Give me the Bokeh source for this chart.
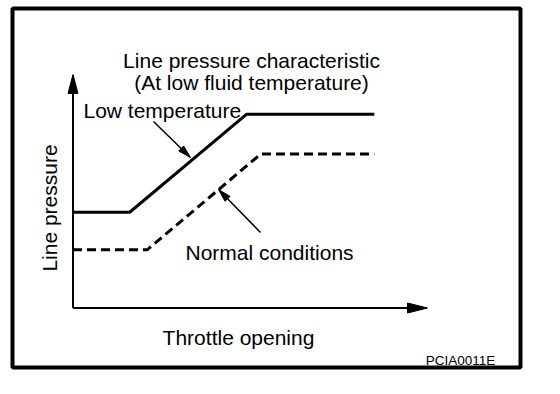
import math
from bokeh.plotting import figure
from bokeh.models import Range1d
from bokeh.embed import file_html
from bokeh.resources import INLINE
from bokeh.core.properties import value

# ---- data (arbitrary units: throttle opening %, line pressure %) ----
throttle_low = [0, 16, 49, 85]
pressure_low = [41, 41, 83, 83]
throttle_normal = [0, 21, 53, 85]
pressure_normal = [25, 25, 66, 66]
axis_max = 100

title_lines = ["Line pressure characteristic", "(At low fluid temperature)"]
label_low = "Low temperature"
label_normal = "Normal conditions"
x_label = "Throttle opening"
y_label = "Line pressure"
code_label = "PCIA0011E"

# ---- geometry (pixels on the canvas) ----
FRAME_L, FRAME_T, FW, FH = 12, 8, 508, 359
OX, OY = 72.5, 307.5          # axis origin
X_TIP, Y_TIP = 427.0, 74.0    # arrow tips = axis_max
SX = (X_TIP - OX) / axis_max
SY = (OY - Y_TIP) / axis_max


def dx(px):
    return (px - OX) / SX


def dy(py):
    return (OY - py) / SY


p = figure(width=FRAME_L + FW + 8, height=FRAME_T + FH + 7, output_backend="svg",
           toolbar_location=None,
           x_range=Range1d(dx(FRAME_L), dx(FRAME_L + FW)),
           y_range=Range1d(dy(FRAME_T + FH), dy(FRAME_T)),
           min_border_left=FRAME_L, min_border_right=8, min_border_top=FRAME_T,
           min_border_bottom=7)
p.axis.visible = False
p.grid.visible = False
p.outline_line_color = "black"
p.outline_line_width = 4
p.outline_line_alpha = 1
p.background_fill_color = "white"
p.border_fill_color = "white"


def head(tip_px, tail_px, length, width):
    tx, ty = tip_px
    ux, uy = tail_px[0] - tx, tail_px[1] - ty
    n = math.hypot(ux, uy)
    ux, uy = ux / n, uy / n
    bx, by = tx + ux * length, ty + uy * length
    px_, py_ = -uy * width / 2, ux * width / 2
    pts = [(tx, ty), (bx + px_, by + py_), (bx - px_, by - py_)]
    return [dx(a) for a, b in pts], [dy(b) for a, b in pts], (dx(bx), dy(by))


# axes
y_tip = (OX, OY - axis_max * SY)
x_tip = (OX + axis_max * SX, OY)
hx, hy, base = head(y_tip, (OX, OY), 19, 10)
p.line([0, 0], [0, base[1]], line_color="black", line_width=2)
p.patch(hx, hy, color="black")
hx, hy, base = head(x_tip, (OX, OY), 20, 10)
p.line([0, base[0]], [0, 0], line_color="black", line_width=2)
p.patch(hx, hy, color="black")

# curves
p.line(throttle_low, pressure_low, line_color="black", line_width=3)
p.line(throttle_normal, pressure_normal, line_color="black", line_width=3, line_dash="9 5")

# pointer arrows
for tail, tip in [((153, 121), (190, 157)), ((260, 232), (218, 189))]:
    hx, hy, base = head(tip, tail, 13, 7)
    p.line([dx(tail[0]), base[0]], [dy(tail[1]), base[1]], line_color="black", line_width=1.5)
    p.patch(hx, hy, color="black")

font = value("Liberation Sans")
big = "21px"
p.text(x=[dx(251), dx(251)], y=[dy(59.5), dy(81.5)], text=title_lines, text_font=font,
       text_font_size=big, text_align="center", text_baseline="alphabetic", text_color="black")
p.text(x=[dx(83)], y=[dy(110)], text=[label_low], text_font=font, text_font_size=big,
       text_align="left", text_baseline="alphabetic", text_color="black")
p.text(x=[dx(185)], y=[dy(251.5)], text=[label_normal], text_font=font, text_font_size=big,
       text_align="left", text_baseline="alphabetic", text_color="black")
p.text(x=[dx(238)], y=[dy(337)], text=[x_label], text_font=font, text_font_size=big,
       text_align="center", text_baseline="alphabetic", text_color="black")
p.text(x=[dx(49)], y=[dy(207.5)], text=[y_label], text_font=font, text_font_size=big,
       text_align="center", text_baseline="alphabetic", angle=math.pi / 2, text_color="black")
p.text(x=[dx(460)], y=[dy(360)], text=[code_label], text_font=font, text_font_size="13.5px",
       text_align="center", text_baseline="alphabetic", text_color="black")

open("out.html", "w").write(file_html(p, INLINE))
